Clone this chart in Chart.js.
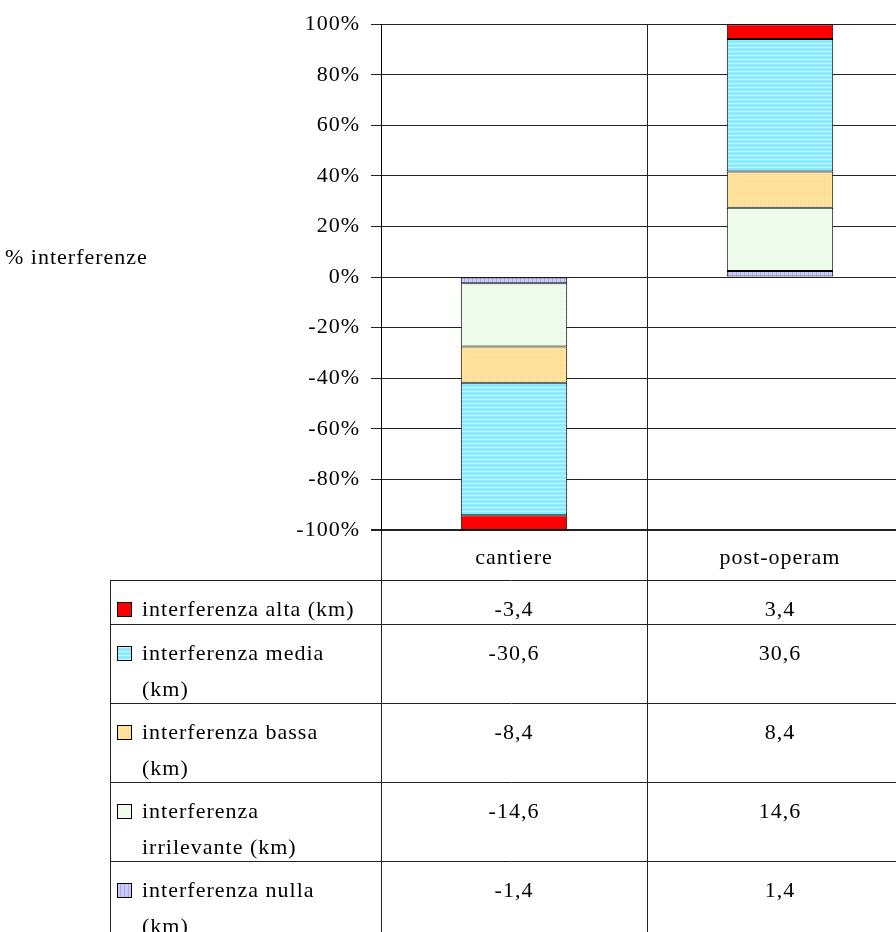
<!DOCTYPE html>
<html>
<head>
<meta charset="utf-8">
<title>% interferenze</title>
<script src="https://cdn.jsdelivr.net/npm/chart.js@4.4.1/dist/chart.umd.min.js"></script>
<style>
  html, body { margin: 0; padding: 0; background: #fff; overflow: hidden; }
  #wrap { width: 914px; height: 932px; }
</style>
</head>
<body>
<div id="wrap"><canvas id="chart" width="914" height="932"></canvas></div>
<script>
// categories and km per interference class (cantiere drawn downwards)
const categories = ['cantiere', 'post-operam'];
const alta = [-3.4, 3.4];
const media = [-30.6, 30.6];
const bassa = [-8.4, 8.4];
const irrilevante = [-14.6, 14.6];
const nulla = [-1.4, 1.4];
const yTitle = '% interferenze';
// table rows, top to bottom, with the line breaks of the original
const tableLabels = [
  ['interferenza alta (km)'],
  ['interferenza media', '(km)'],
  ['interferenza bassa', '(km)'],
  ['interferenza', 'irrilevante (km)'],
  ['interferenza nulla', '(km)']
];

const FAMILY = '"Liberation Serif", serif';
const FONT = '22px ' + FAMILY;
const canvas = document.getElementById('chart');
const ctx = canvas.getContext('2d');

function makePattern(w, h, base, fg, cells) {
  const c = document.createElement('canvas');
  c.width = w; c.height = h;
  const g = c.getContext('2d');
  g.fillStyle = base;
  g.fillRect(0, 0, w, h);
  g.fillStyle = fg;
  cells.forEach(([x, y, cw, ch]) => g.fillRect(x, y, cw, ch));
  return ctx.createPattern(c, 'repeat');
}

const fillAlta = '#ff0000';
const fillMedia = makePattern(4, 4, '#8aeaff', '#c8f7ff', [[0, 3, 4, 1]]);
const fillBassa = makePattern(4, 4, '#ffe6a6', '#ffd47a', [[0, 0, 1, 1], [2, 2, 1, 1], [2, 0, 1, 1], [0, 2, 1, 1]]);
const fillIrril = makePattern(4, 4, '#f0fdee', '#dcf8d6', [[0, 0, 1, 1], [2, 2, 1, 1]]);
const fillNulla = makePattern(4, 4, '#cbcbf9', '#a9a9ef', [[0, 0, 1, 4]]);

// series in table order (alta first); stacked bottom-up in reverse
const series = [
  { name: tableLabels[0], data: alta, fill: fillAlta },
  { name: tableLabels[1], data: media, fill: fillMedia },
  { name: tableLabels[2], data: bassa, fill: fillBassa },
  { name: tableLabels[3], data: irrilevante, fill: fillIrril },
  { name: tableLabels[4], data: nulla, fill: fillNulla }
];

const totals = categories.map((c, i) => series.reduce((s, d) => s + Math.abs(d.data[i]), 0));
const fmt = v => String(v).replace('.', ',');

const datasets = series.slice().reverse().map(s => ({
  label: s.name.join(' '),
  data: s.data.map((v, i) => v / totals[i] * 100),
  backgroundColor: s.fill,
  borderColor: '#000',
  borderWidth: 1,
  borderSkipped: false,
  barPercentage: 0.4,
  categoryPercentage: 1
}));

// Garamond in the original runs wider than Liberation Serif
const spacingPlugin = {
  id: 'spacing',
  beforeDraw(chart) { chart.ctx.letterSpacing = '1px'; }
};

const tablePlugin = {
  id: 'dataTable',
  afterDraw(chart) {
    const { ctx, chartArea: a, scales: { x } } = chart;
    const left = 110, rowTop = 580, bottom = chart.height + 10;
    const n = categories.length;
    const colW = (a.right - a.left) / n;
    const line = (x1, y1, x2, y2) => { ctx.beginPath(); ctx.moveTo(x1, y1); ctx.lineTo(x2, y2); ctx.stroke(); };

    ctx.save();
    ctx.font = FONT;
    ctx.letterSpacing = '1px';
    ctx.fillStyle = '#000';
    ctx.strokeStyle = '#222';
    ctx.lineWidth = 1;

    // axis title
    ctx.textAlign = 'left';
    ctx.textBaseline = 'middle';
    ctx.fillText(yTitle, 5, 258);

    // header
    ctx.textAlign = 'center';
    categories.forEach((c, i) => ctx.fillText(c, x.getPixelForValue(i), a.bottom + 28));

    // vertical rules
    line(left + 0.5, rowTop, left + 0.5, bottom);
    for (let i = 0; i <= n; i++) {
      const bx = Math.round(a.left + i * colW) + 0.5;
      line(bx, a.bottom, bx, bottom);
    }

    // rows
    let y = rowTop;
    line(left, y + 0.5, a.right, y + 0.5);
    series.forEach(s => {
      const h = 44 + 35 * (s.name.length - 1);
      const cy = y + 30;
      // legend key
      ctx.fillStyle = s.fill;
      ctx.fillRect(117, cy - 8, 15, 15);
      ctx.strokeStyle = '#000';
      ctx.strokeRect(117.5, cy - 7.5, 14, 14);
      ctx.strokeStyle = '#222';
      ctx.fillStyle = '#000';
      ctx.textAlign = 'left';
      s.name.forEach((t, k) => ctx.fillText(t, 142, cy + k * 36));
      ctx.textAlign = 'center';
      s.data.forEach((v, i) => ctx.fillText(fmt(v), x.getPixelForValue(i), cy));
      y += h;
      line(left, y + 0.5, a.right, y + 0.5);
    });
    ctx.restore();
  }
};

new Chart(ctx, {
  type: 'bar',
  data: { labels: categories, datasets },
  options: {
    responsive: false,
    animation: false,
    layout: { padding: { top: 22, right: 1, bottom: 402, left: 0 } },
    plugins: { legend: { display: false }, tooltip: { enabled: false } },
    scales: {
      x: {
        stacked: true,
        grid: { offset: true, color: '#222', drawTicks: false },
        border: { display: false },
        ticks: { display: false }
      },
      y: {
        stacked: true,
        min: -100,
        max: 100,
        afterFit: scale => { scale.width = 381; },
        ticks: {
          stepSize: 20,
          padding: 11,
          color: '#000',
          font: { family: FAMILY, size: 22 },
          callback: v => v + '%'
        },
        grid: {
          color: '#222',
          tickLength: 10,
          lineWidth: c => (c.tick && c.tick.value === -100 ? 2 : 1)
        },
        border: { color: '#000', width: 1 }
      }
    }
  },
  plugins: [spacingPlugin, tablePlugin]
});
</script>
</body>
</html>
